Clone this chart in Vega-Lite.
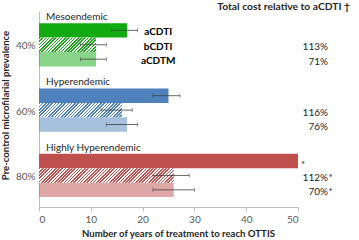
{
  "$schema": "https://vega.github.io/schema/vega-lite/v6.json",
  "width": 259,
  "height": 196,
  "autosize": {"type": "none"},
  "padding": {"left": 39, "top": 11, "right": 61, "bottom": 33},
  "background": "white",
  "config": {
    "font": "Lato",
    "view": {"stroke": null},
    "axis": {"domainColor": "#bfbfbf", "tickColor": "#bfbfbf", "labelColor": "#595959", "titleColor": "#262626", "labelFont": "Lato", "titleFont": "Lato"}
  },
  "title": {"text": "Total cost relative to aCDTI †", "anchor": "end", "frame": "group", "fontSize": 10.3, "fontWeight": "bold", "color": "#262626", "dx": 52, "offset": -1.5},
  "data": {
    "values": [
      {"prev": "40%", "region": "Mesoendemic", "series": "aCDTI", "years": 17, "lo": 14, "hi": 19, "cost": "", "star": "", "barstar": ""},
      {"prev": "40%", "region": "Mesoendemic", "series": "bCDTI", "years": 11, "lo": 8, "hi": 13, "cost": "113%", "star": "", "barstar": ""},
      {"prev": "40%", "region": "Mesoendemic", "series": "aCDTM", "years": 11, "lo": 8, "hi": 13, "cost": "71%", "star": "", "barstar": ""},
      {"prev": "60%", "region": "Hyperendemic", "series": "aCDTI", "years": 25, "lo": 22, "hi": 27.2, "cost": "", "star": "", "barstar": ""},
      {"prev": "60%", "region": "Hyperendemic", "series": "bCDTI", "years": 16, "lo": 12, "hi": 18, "cost": "116%", "star": "", "barstar": ""},
      {"prev": "60%", "region": "Hyperendemic", "series": "aCDTM", "years": 17, "lo": 13, "hi": 19, "cost": "76%", "star": "", "barstar": ""},
      {"prev": "80%", "region": "Highly Hyperendemic", "series": "aCDTI", "years": 50, "lo": null, "hi": null, "cost": "", "star": "", "barstar": "*"},
      {"prev": "80%", "region": "Highly Hyperendemic", "series": "bCDTI", "years": 26, "lo": 22, "hi": 29, "cost": "112%", "star": "*", "barstar": ""},
      {"prev": "80%", "region": "Highly Hyperendemic", "series": "aCDTM", "years": 26, "lo": 22, "hi": 30, "cost": "70%", "star": "*", "barstar": ""}
    ]
  },
  "encoding": {
    "y": {"field": "prev", "type": "nominal", "sort": ["40%", "60%", "80%"], "scale": {"paddingInner": 0, "paddingOuter": 0},
      "axis": {"title": "Pre-control microfilarial prevalence", "ticks": false, "labelFontSize": 10, "labelPadding": 4, "labelOffset": 2.5, "titleFontSize": 9.6, "titleFontWeight": "bold", "titlePadding": 0, "titleY": 94, "titleX": -29}},
    "yOffset": {"field": "series", "type": "nominal", "sort": ["aCDTI", "bCDTI", "aCDTM"], "scale": {"paddingInner": 0, "paddingOuter": 0.768, "align": 0.55}}
  },
  "layer": [
    {
      "transform": [{"filter": "datum.series != 'bCDTI'"}],
      "mark": {"type": "bar"},
      "encoding": {
        "x": {"field": "years", "type": "quantitative", "scale": {"domain": [0, 50], "nice": false},
          "axis": {"title": "Number of years of treatment to reach OTTIS", "values": [0, 10, 20, 30, 40, 50], "grid": false, "tickSize": 4, "labelFontSize": 10, "labelPadding": 3, "titleFontSize": 9.6, "titleFontWeight": "bold", "titlePadding": 4, "titleX": 139}},
        "color": {"field": "prev", "type": "nominal", "scale": {"domain": ["40%", "60%", "80%"], "range": ["#11aa11", "#4f81bd", "#c0504d"]}, "legend": null},
        "opacity": {"field": "series", "type": "nominal", "scale": {"domain": ["aCDTI", "aCDTM"], "range": [1, 0.5]}, "legend": null}
      }
    },
    {
      "transform": [{"filter": "datum.series == 'bCDTI' && datum.prev == '40%'"}],
      "mark": {"type": "bar", "fill": {"gradient": "linear", "x1": 0, "y1": 0, "x2": 1.1775, "y2": 0.2975, "stops": [
        {"offset": 0, "color": "#1aa81a"}, {"offset": 0.02273, "color": "#1aa81a"}, {"offset": 0.02273, "color": "#ffffff"}, {"offset": 0.04545, "color": "#ffffff"},
        {"offset": 0.04545, "color": "#1aa81a"}, {"offset": 0.06818, "color": "#1aa81a"}, {"offset": 0.06818, "color": "#ffffff"}, {"offset": 0.09091, "color": "#ffffff"},
        {"offset": 0.09091, "color": "#1aa81a"}, {"offset": 0.11364, "color": "#1aa81a"}, {"offset": 0.11364, "color": "#ffffff"}, {"offset": 0.13636, "color": "#ffffff"},
        {"offset": 0.13636, "color": "#1aa81a"}, {"offset": 0.15909, "color": "#1aa81a"}, {"offset": 0.15909, "color": "#ffffff"}, {"offset": 0.18182, "color": "#ffffff"},
        {"offset": 0.18182, "color": "#1aa81a"}, {"offset": 0.20455, "color": "#1aa81a"}, {"offset": 0.20455, "color": "#ffffff"}, {"offset": 0.22727, "color": "#ffffff"},
        {"offset": 0.22727, "color": "#1aa81a"}, {"offset": 0.25, "color": "#1aa81a"}, {"offset": 0.25, "color": "#ffffff"}, {"offset": 0.27273, "color": "#ffffff"},
        {"offset": 0.27273, "color": "#1aa81a"}, {"offset": 0.29545, "color": "#1aa81a"}, {"offset": 0.29545, "color": "#ffffff"}, {"offset": 0.31818, "color": "#ffffff"},
        {"offset": 0.31818, "color": "#1aa81a"}, {"offset": 0.34091, "color": "#1aa81a"}, {"offset": 0.34091, "color": "#ffffff"}, {"offset": 0.36364, "color": "#ffffff"},
        {"offset": 0.36364, "color": "#1aa81a"}, {"offset": 0.38636, "color": "#1aa81a"}, {"offset": 0.38636, "color": "#ffffff"}, {"offset": 0.40909, "color": "#ffffff"},
        {"offset": 0.40909, "color": "#1aa81a"}, {"offset": 0.43182, "color": "#1aa81a"}, {"offset": 0.43182, "color": "#ffffff"}, {"offset": 0.45455, "color": "#ffffff"},
        {"offset": 0.45455, "color": "#1aa81a"}, {"offset": 0.47727, "color": "#1aa81a"}, {"offset": 0.47727, "color": "#ffffff"}, {"offset": 0.5, "color": "#ffffff"},
        {"offset": 0.5, "color": "#1aa81a"}, {"offset": 0.52273, "color": "#1aa81a"}, {"offset": 0.52273, "color": "#ffffff"}, {"offset": 0.54545, "color": "#ffffff"},
        {"offset": 0.54545, "color": "#1aa81a"}, {"offset": 0.56818, "color": "#1aa81a"}, {"offset": 0.56818, "color": "#ffffff"}, {"offset": 0.59091, "color": "#ffffff"},
        {"offset": 0.59091, "color": "#1aa81a"}, {"offset": 0.61364, "color": "#1aa81a"}, {"offset": 0.61364, "color": "#ffffff"}, {"offset": 0.63636, "color": "#ffffff"},
        {"offset": 0.63636, "color": "#1aa81a"}, {"offset": 0.65909, "color": "#1aa81a"}, {"offset": 0.65909, "color": "#ffffff"}, {"offset": 0.68182, "color": "#ffffff"},
        {"offset": 0.68182, "color": "#1aa81a"}, {"offset": 0.70455, "color": "#1aa81a"}, {"offset": 0.70455, "color": "#ffffff"}, {"offset": 0.72727, "color": "#ffffff"},
        {"offset": 0.72727, "color": "#1aa81a"}, {"offset": 0.75, "color": "#1aa81a"}, {"offset": 0.75, "color": "#ffffff"}, {"offset": 0.77273, "color": "#ffffff"},
        {"offset": 0.77273, "color": "#1aa81a"}, {"offset": 0.79545, "color": "#1aa81a"}, {"offset": 0.79545, "color": "#ffffff"}, {"offset": 0.81818, "color": "#ffffff"},
        {"offset": 0.81818, "color": "#1aa81a"}, {"offset": 0.84091, "color": "#1aa81a"}, {"offset": 0.84091, "color": "#ffffff"}, {"offset": 0.86364, "color": "#ffffff"},
        {"offset": 0.86364, "color": "#1aa81a"}, {"offset": 0.88636, "color": "#1aa81a"}, {"offset": 0.88636, "color": "#ffffff"}, {"offset": 0.90909, "color": "#ffffff"},
        {"offset": 0.90909, "color": "#1aa81a"}, {"offset": 0.93182, "color": "#1aa81a"}, {"offset": 0.93182, "color": "#ffffff"}, {"offset": 0.95455, "color": "#ffffff"},
        {"offset": 0.95455, "color": "#1aa81a"}, {"offset": 0.97727, "color": "#1aa81a"}, {"offset": 0.97727, "color": "#ffffff"}, {"offset": 1, "color": "#ffffff"}
      ]}},
      "encoding": {"x": {"field": "years", "type": "quantitative"}}
    },
    {
      "transform": [{"filter": "datum.series == 'bCDTI' && datum.prev == '60%'"}],
      "mark": {"type": "bar", "fill": {"gradient": "linear", "x1": 0, "y1": 0, "x2": 1.1394, "y2": 0.198, "stops": [
        {"offset": 0, "color": "#4f81bd"}, {"offset": 0.01667, "color": "#4f81bd"}, {"offset": 0.01667, "color": "#ffffff"}, {"offset": 0.03333, "color": "#ffffff"},
        {"offset": 0.03333, "color": "#4f81bd"}, {"offset": 0.05, "color": "#4f81bd"}, {"offset": 0.05, "color": "#ffffff"}, {"offset": 0.06667, "color": "#ffffff"},
        {"offset": 0.06667, "color": "#4f81bd"}, {"offset": 0.08333, "color": "#4f81bd"}, {"offset": 0.08333, "color": "#ffffff"}, {"offset": 0.1, "color": "#ffffff"},
        {"offset": 0.1, "color": "#4f81bd"}, {"offset": 0.11667, "color": "#4f81bd"}, {"offset": 0.11667, "color": "#ffffff"}, {"offset": 0.13333, "color": "#ffffff"},
        {"offset": 0.13333, "color": "#4f81bd"}, {"offset": 0.15, "color": "#4f81bd"}, {"offset": 0.15, "color": "#ffffff"}, {"offset": 0.16667, "color": "#ffffff"},
        {"offset": 0.16667, "color": "#4f81bd"}, {"offset": 0.18333, "color": "#4f81bd"}, {"offset": 0.18333, "color": "#ffffff"}, {"offset": 0.2, "color": "#ffffff"},
        {"offset": 0.2, "color": "#4f81bd"}, {"offset": 0.21667, "color": "#4f81bd"}, {"offset": 0.21667, "color": "#ffffff"}, {"offset": 0.23333, "color": "#ffffff"},
        {"offset": 0.23333, "color": "#4f81bd"}, {"offset": 0.25, "color": "#4f81bd"}, {"offset": 0.25, "color": "#ffffff"}, {"offset": 0.26667, "color": "#ffffff"},
        {"offset": 0.26667, "color": "#4f81bd"}, {"offset": 0.28333, "color": "#4f81bd"}, {"offset": 0.28333, "color": "#ffffff"}, {"offset": 0.3, "color": "#ffffff"},
        {"offset": 0.3, "color": "#4f81bd"}, {"offset": 0.31667, "color": "#4f81bd"}, {"offset": 0.31667, "color": "#ffffff"}, {"offset": 0.33333, "color": "#ffffff"},
        {"offset": 0.33333, "color": "#4f81bd"}, {"offset": 0.35, "color": "#4f81bd"}, {"offset": 0.35, "color": "#ffffff"}, {"offset": 0.36667, "color": "#ffffff"},
        {"offset": 0.36667, "color": "#4f81bd"}, {"offset": 0.38333, "color": "#4f81bd"}, {"offset": 0.38333, "color": "#ffffff"}, {"offset": 0.4, "color": "#ffffff"},
        {"offset": 0.4, "color": "#4f81bd"}, {"offset": 0.41667, "color": "#4f81bd"}, {"offset": 0.41667, "color": "#ffffff"}, {"offset": 0.43333, "color": "#ffffff"},
        {"offset": 0.43333, "color": "#4f81bd"}, {"offset": 0.45, "color": "#4f81bd"}, {"offset": 0.45, "color": "#ffffff"}, {"offset": 0.46667, "color": "#ffffff"},
        {"offset": 0.46667, "color": "#4f81bd"}, {"offset": 0.48333, "color": "#4f81bd"}, {"offset": 0.48333, "color": "#ffffff"}, {"offset": 0.5, "color": "#ffffff"},
        {"offset": 0.5, "color": "#4f81bd"}, {"offset": 0.51667, "color": "#4f81bd"}, {"offset": 0.51667, "color": "#ffffff"}, {"offset": 0.53333, "color": "#ffffff"},
        {"offset": 0.53333, "color": "#4f81bd"}, {"offset": 0.55, "color": "#4f81bd"}, {"offset": 0.55, "color": "#ffffff"}, {"offset": 0.56667, "color": "#ffffff"},
        {"offset": 0.56667, "color": "#4f81bd"}, {"offset": 0.58333, "color": "#4f81bd"}, {"offset": 0.58333, "color": "#ffffff"}, {"offset": 0.6, "color": "#ffffff"},
        {"offset": 0.6, "color": "#4f81bd"}, {"offset": 0.61667, "color": "#4f81bd"}, {"offset": 0.61667, "color": "#ffffff"}, {"offset": 0.63333, "color": "#ffffff"},
        {"offset": 0.63333, "color": "#4f81bd"}, {"offset": 0.65, "color": "#4f81bd"}, {"offset": 0.65, "color": "#ffffff"}, {"offset": 0.66667, "color": "#ffffff"},
        {"offset": 0.66667, "color": "#4f81bd"}, {"offset": 0.68333, "color": "#4f81bd"}, {"offset": 0.68333, "color": "#ffffff"}, {"offset": 0.7, "color": "#ffffff"},
        {"offset": 0.7, "color": "#4f81bd"}, {"offset": 0.71667, "color": "#4f81bd"}, {"offset": 0.71667, "color": "#ffffff"}, {"offset": 0.73333, "color": "#ffffff"},
        {"offset": 0.73333, "color": "#4f81bd"}, {"offset": 0.75, "color": "#4f81bd"}, {"offset": 0.75, "color": "#ffffff"}, {"offset": 0.76667, "color": "#ffffff"},
        {"offset": 0.76667, "color": "#4f81bd"}, {"offset": 0.78333, "color": "#4f81bd"}, {"offset": 0.78333, "color": "#ffffff"}, {"offset": 0.8, "color": "#ffffff"},
        {"offset": 0.8, "color": "#4f81bd"}, {"offset": 0.81667, "color": "#4f81bd"}, {"offset": 0.81667, "color": "#ffffff"}, {"offset": 0.83333, "color": "#ffffff"},
        {"offset": 0.83333, "color": "#4f81bd"}, {"offset": 0.85, "color": "#4f81bd"}, {"offset": 0.85, "color": "#ffffff"}, {"offset": 0.86667, "color": "#ffffff"},
        {"offset": 0.86667, "color": "#4f81bd"}, {"offset": 0.88333, "color": "#4f81bd"}, {"offset": 0.88333, "color": "#ffffff"}, {"offset": 0.9, "color": "#ffffff"},
        {"offset": 0.9, "color": "#4f81bd"}, {"offset": 0.91667, "color": "#4f81bd"}, {"offset": 0.91667, "color": "#ffffff"}, {"offset": 0.93333, "color": "#ffffff"},
        {"offset": 0.93333, "color": "#4f81bd"}, {"offset": 0.95, "color": "#4f81bd"}, {"offset": 0.95, "color": "#ffffff"}, {"offset": 0.96667, "color": "#ffffff"},
        {"offset": 0.96667, "color": "#4f81bd"}, {"offset": 0.98333, "color": "#4f81bd"}, {"offset": 0.98333, "color": "#ffffff"}, {"offset": 1, "color": "#ffffff"}
      ]}},
      "encoding": {"x": {"field": "years", "type": "quantitative"}}
    },
    {
      "transform": [{"filter": "datum.series == 'bCDTI' && datum.prev == '80%'"}],
      "mark": {"type": "bar", "fill": {"gradient": "linear", "x1": 0, "y1": 0, "x2": 1.0944, "y2": 0.117, "stops": [
        {"offset": 0, "color": "#c0504d"}, {"offset": 0.01087, "color": "#c0504d"}, {"offset": 0.01087, "color": "#ffffff"}, {"offset": 0.02174, "color": "#ffffff"},
        {"offset": 0.02174, "color": "#c0504d"}, {"offset": 0.03261, "color": "#c0504d"}, {"offset": 0.03261, "color": "#ffffff"}, {"offset": 0.04348, "color": "#ffffff"},
        {"offset": 0.04348, "color": "#c0504d"}, {"offset": 0.05435, "color": "#c0504d"}, {"offset": 0.05435, "color": "#ffffff"}, {"offset": 0.06522, "color": "#ffffff"},
        {"offset": 0.06522, "color": "#c0504d"}, {"offset": 0.07609, "color": "#c0504d"}, {"offset": 0.07609, "color": "#ffffff"}, {"offset": 0.08696, "color": "#ffffff"},
        {"offset": 0.08696, "color": "#c0504d"}, {"offset": 0.09783, "color": "#c0504d"}, {"offset": 0.09783, "color": "#ffffff"}, {"offset": 0.1087, "color": "#ffffff"},
        {"offset": 0.1087, "color": "#c0504d"}, {"offset": 0.11957, "color": "#c0504d"}, {"offset": 0.11957, "color": "#ffffff"}, {"offset": 0.13043, "color": "#ffffff"},
        {"offset": 0.13043, "color": "#c0504d"}, {"offset": 0.1413, "color": "#c0504d"}, {"offset": 0.1413, "color": "#ffffff"}, {"offset": 0.15217, "color": "#ffffff"},
        {"offset": 0.15217, "color": "#c0504d"}, {"offset": 0.16304, "color": "#c0504d"}, {"offset": 0.16304, "color": "#ffffff"}, {"offset": 0.17391, "color": "#ffffff"},
        {"offset": 0.17391, "color": "#c0504d"}, {"offset": 0.18478, "color": "#c0504d"}, {"offset": 0.18478, "color": "#ffffff"}, {"offset": 0.19565, "color": "#ffffff"},
        {"offset": 0.19565, "color": "#c0504d"}, {"offset": 0.20652, "color": "#c0504d"}, {"offset": 0.20652, "color": "#ffffff"}, {"offset": 0.21739, "color": "#ffffff"},
        {"offset": 0.21739, "color": "#c0504d"}, {"offset": 0.22826, "color": "#c0504d"}, {"offset": 0.22826, "color": "#ffffff"}, {"offset": 0.23913, "color": "#ffffff"},
        {"offset": 0.23913, "color": "#c0504d"}, {"offset": 0.25, "color": "#c0504d"}, {"offset": 0.25, "color": "#ffffff"}, {"offset": 0.26087, "color": "#ffffff"},
        {"offset": 0.26087, "color": "#c0504d"}, {"offset": 0.27174, "color": "#c0504d"}, {"offset": 0.27174, "color": "#ffffff"}, {"offset": 0.28261, "color": "#ffffff"},
        {"offset": 0.28261, "color": "#c0504d"}, {"offset": 0.29348, "color": "#c0504d"}, {"offset": 0.29348, "color": "#ffffff"}, {"offset": 0.30435, "color": "#ffffff"},
        {"offset": 0.30435, "color": "#c0504d"}, {"offset": 0.31522, "color": "#c0504d"}, {"offset": 0.31522, "color": "#ffffff"}, {"offset": 0.32609, "color": "#ffffff"},
        {"offset": 0.32609, "color": "#c0504d"}, {"offset": 0.33696, "color": "#c0504d"}, {"offset": 0.33696, "color": "#ffffff"}, {"offset": 0.34783, "color": "#ffffff"},
        {"offset": 0.34783, "color": "#c0504d"}, {"offset": 0.3587, "color": "#c0504d"}, {"offset": 0.3587, "color": "#ffffff"}, {"offset": 0.36957, "color": "#ffffff"},
        {"offset": 0.36957, "color": "#c0504d"}, {"offset": 0.38043, "color": "#c0504d"}, {"offset": 0.38043, "color": "#ffffff"}, {"offset": 0.3913, "color": "#ffffff"},
        {"offset": 0.3913, "color": "#c0504d"}, {"offset": 0.40217, "color": "#c0504d"}, {"offset": 0.40217, "color": "#ffffff"}, {"offset": 0.41304, "color": "#ffffff"},
        {"offset": 0.41304, "color": "#c0504d"}, {"offset": 0.42391, "color": "#c0504d"}, {"offset": 0.42391, "color": "#ffffff"}, {"offset": 0.43478, "color": "#ffffff"},
        {"offset": 0.43478, "color": "#c0504d"}, {"offset": 0.44565, "color": "#c0504d"}, {"offset": 0.44565, "color": "#ffffff"}, {"offset": 0.45652, "color": "#ffffff"},
        {"offset": 0.45652, "color": "#c0504d"}, {"offset": 0.46739, "color": "#c0504d"}, {"offset": 0.46739, "color": "#ffffff"}, {"offset": 0.47826, "color": "#ffffff"},
        {"offset": 0.47826, "color": "#c0504d"}, {"offset": 0.48913, "color": "#c0504d"}, {"offset": 0.48913, "color": "#ffffff"}, {"offset": 0.5, "color": "#ffffff"},
        {"offset": 0.5, "color": "#c0504d"}, {"offset": 0.51087, "color": "#c0504d"}, {"offset": 0.51087, "color": "#ffffff"}, {"offset": 0.52174, "color": "#ffffff"},
        {"offset": 0.52174, "color": "#c0504d"}, {"offset": 0.53261, "color": "#c0504d"}, {"offset": 0.53261, "color": "#ffffff"}, {"offset": 0.54348, "color": "#ffffff"},
        {"offset": 0.54348, "color": "#c0504d"}, {"offset": 0.55435, "color": "#c0504d"}, {"offset": 0.55435, "color": "#ffffff"}, {"offset": 0.56522, "color": "#ffffff"},
        {"offset": 0.56522, "color": "#c0504d"}, {"offset": 0.57609, "color": "#c0504d"}, {"offset": 0.57609, "color": "#ffffff"}, {"offset": 0.58696, "color": "#ffffff"},
        {"offset": 0.58696, "color": "#c0504d"}, {"offset": 0.59783, "color": "#c0504d"}, {"offset": 0.59783, "color": "#ffffff"}, {"offset": 0.6087, "color": "#ffffff"},
        {"offset": 0.6087, "color": "#c0504d"}, {"offset": 0.61957, "color": "#c0504d"}, {"offset": 0.61957, "color": "#ffffff"}, {"offset": 0.63043, "color": "#ffffff"},
        {"offset": 0.63043, "color": "#c0504d"}, {"offset": 0.6413, "color": "#c0504d"}, {"offset": 0.6413, "color": "#ffffff"}, {"offset": 0.65217, "color": "#ffffff"},
        {"offset": 0.65217, "color": "#c0504d"}, {"offset": 0.66304, "color": "#c0504d"}, {"offset": 0.66304, "color": "#ffffff"}, {"offset": 0.67391, "color": "#ffffff"},
        {"offset": 0.67391, "color": "#c0504d"}, {"offset": 0.68478, "color": "#c0504d"}, {"offset": 0.68478, "color": "#ffffff"}, {"offset": 0.69565, "color": "#ffffff"},
        {"offset": 0.69565, "color": "#c0504d"}, {"offset": 0.70652, "color": "#c0504d"}, {"offset": 0.70652, "color": "#ffffff"}, {"offset": 0.71739, "color": "#ffffff"},
        {"offset": 0.71739, "color": "#c0504d"}, {"offset": 0.72826, "color": "#c0504d"}, {"offset": 0.72826, "color": "#ffffff"}, {"offset": 0.73913, "color": "#ffffff"},
        {"offset": 0.73913, "color": "#c0504d"}, {"offset": 0.75, "color": "#c0504d"}, {"offset": 0.75, "color": "#ffffff"}, {"offset": 0.76087, "color": "#ffffff"},
        {"offset": 0.76087, "color": "#c0504d"}, {"offset": 0.77174, "color": "#c0504d"}, {"offset": 0.77174, "color": "#ffffff"}, {"offset": 0.78261, "color": "#ffffff"},
        {"offset": 0.78261, "color": "#c0504d"}, {"offset": 0.79348, "color": "#c0504d"}, {"offset": 0.79348, "color": "#ffffff"}, {"offset": 0.80435, "color": "#ffffff"},
        {"offset": 0.80435, "color": "#c0504d"}, {"offset": 0.81522, "color": "#c0504d"}, {"offset": 0.81522, "color": "#ffffff"}, {"offset": 0.82609, "color": "#ffffff"},
        {"offset": 0.82609, "color": "#c0504d"}, {"offset": 0.83696, "color": "#c0504d"}, {"offset": 0.83696, "color": "#ffffff"}, {"offset": 0.84783, "color": "#ffffff"},
        {"offset": 0.84783, "color": "#c0504d"}, {"offset": 0.8587, "color": "#c0504d"}, {"offset": 0.8587, "color": "#ffffff"}, {"offset": 0.86957, "color": "#ffffff"},
        {"offset": 0.86957, "color": "#c0504d"}, {"offset": 0.88043, "color": "#c0504d"}, {"offset": 0.88043, "color": "#ffffff"}, {"offset": 0.8913, "color": "#ffffff"},
        {"offset": 0.8913, "color": "#c0504d"}, {"offset": 0.90217, "color": "#c0504d"}, {"offset": 0.90217, "color": "#ffffff"}, {"offset": 0.91304, "color": "#ffffff"},
        {"offset": 0.91304, "color": "#c0504d"}, {"offset": 0.92391, "color": "#c0504d"}, {"offset": 0.92391, "color": "#ffffff"}, {"offset": 0.93478, "color": "#ffffff"},
        {"offset": 0.93478, "color": "#c0504d"}, {"offset": 0.94565, "color": "#c0504d"}, {"offset": 0.94565, "color": "#ffffff"}, {"offset": 0.95652, "color": "#ffffff"},
        {"offset": 0.95652, "color": "#c0504d"}, {"offset": 0.96739, "color": "#c0504d"}, {"offset": 0.96739, "color": "#ffffff"}, {"offset": 0.97826, "color": "#ffffff"},
        {"offset": 0.97826, "color": "#c0504d"}, {"offset": 0.98913, "color": "#c0504d"}, {"offset": 0.98913, "color": "#ffffff"}, {"offset": 1, "color": "#ffffff"}
      ]}},
      "encoding": {"x": {"field": "years", "type": "quantitative"}}
    },
    {
      "transform": [{"filter": "isValid(datum.lo)"}],
      "mark": {"type": "rule", "color": "#404040", "strokeWidth": 0.8},
      "encoding": {"x": {"field": "lo", "type": "quantitative"}, "x2": {"field": "hi"}}
    },
    {
      "transform": [{"filter": "isValid(datum.lo)"}],
      "mark": {"type": "tick", "orient": "vertical", "size": 4, "thickness": 0.8, "color": "#404040"},
      "encoding": {"x": {"field": "lo", "type": "quantitative"}}
    },
    {
      "transform": [{"filter": "isValid(datum.hi)"}],
      "mark": {"type": "tick", "orient": "vertical", "size": 4, "thickness": 0.8, "color": "#404040"},
      "encoding": {"x": {"field": "hi", "type": "quantitative"}}
    },
    {
      "transform": [{"filter": "datum.series == 'aCDTI'"}],
      "mark": {"type": "text", "align": "left", "dx": 7, "dy": -13.5, "fontSize": 10, "color": "#262626"},
      "encoding": {"x": {"datum": 0, "type": "quantitative"}, "text": {"field": "region"}}
    },
    {
      "transform": [{"filter": "datum.prev == '40%'"}],
      "mark": {"type": "text", "align": "center", "dy": 2, "fontSize": 10, "fontWeight": "bold", "color": "#000000"},
      "encoding": {"x": {"datum": 23, "type": "quantitative"}, "text": {"field": "series"}}
    },
    {
      "transform": [{"filter": "datum.cost != ''"}],
      "mark": {"type": "text", "align": "right", "dy": 2.5, "fontSize": 10, "color": "#262626"},
      "encoding": {"x": {"datum": 55.8, "type": "quantitative"}, "text": {"field": "cost"}}
    },
    {
      "transform": [{"filter": "datum.star != ''"}],
      "mark": {"type": "text", "align": "left", "dx": 0.5, "dy": 2.5, "fontSize": 10, "color": "#262626"},
      "encoding": {"x": {"datum": 55.8, "type": "quantitative"}, "text": {"field": "star"}}
    },
    {
      "transform": [{"filter": "datum.barstar != ''"}],
      "mark": {"type": "text", "align": "left", "dx": 3, "dy": 4, "fontSize": 10, "color": "#262626"},
      "encoding": {"x": {"field": "years", "type": "quantitative"}, "text": {"field": "barstar"}}
    }
  ]
}
